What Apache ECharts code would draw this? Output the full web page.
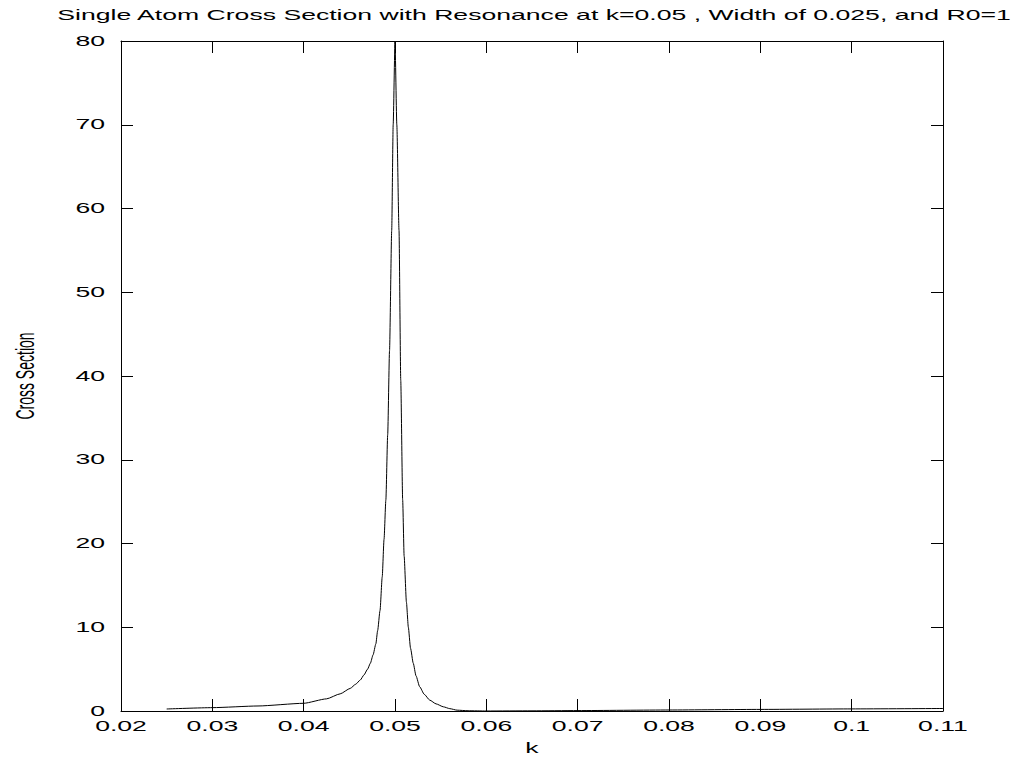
<!DOCTYPE html>
<html>
<head>
<meta charset="utf-8">
<script src="https://cdn.jsdelivr.net/npm/echarts@6/dist/echarts.min.js"></script>
<style>
html,body{margin:0;padding:0;background:#fff;}
#chart{width:1017px;height:759px;}
</style>
</head>
<body>
<div id="chart"></div>
<script>
// ---- data ----
const kValues = [
  0.025, 0.030, 0.035, 0.040, 0.0425, 0.044, 0.0451, 0.0457, 0.0462, 0.0466,
  0.0470, 0.0473, 0.0476, 0.0479, 0.0481, 0.04836, 0.0486, 0.0488, 0.0490, 0.0492,
  0.0494, 0.04964, 0.0498, 0.0500, 0.0502, 0.05044, 0.05063, 0.05084, 0.0510, 0.05125,
  0.05146, 0.0517, 0.0520, 0.0523, 0.0527, 0.0532, 0.0538, 0.0545, 0.0553, 0.0560,
  0.0568, 0.058, 0.060, 0.065, 0.070, 0.080, 0.090, 0.100, 0.110
];
const crossSection = [
  0.24, 0.40, 0.60, 0.92, 1.45, 2.05, 2.7, 3.2, 3.7, 4.3,
  5.0, 5.7, 6.7, 8.0, 9.6, 12, 16, 20.5, 25.2, 33,
  43, 57.4, 70, 80, 70, 57.4, 39.5, 25.2, 18.5, 13,
  10, 7.5, 5.7, 4.2, 2.9, 2.0, 1.3, 0.85, 0.5, 0.28,
  0.1, 0.03, 0.0, 0.02, 0.05, 0.12, 0.19, 0.25, 0.30
];
const xTickValues = [0.02, 0.03, 0.04, 0.05, 0.06, 0.07, 0.08, 0.09, 0.10, 0.11];
const xTickLabels = ['0.02', '0.03', '0.04', '0.05', '0.06', '0.07', '0.08', '0.09', '0.1', '0.11'];
const yTickValues = [0, 10, 20, 30, 40, 50, 60, 70, 80];
const yTickLabels = ['0', '10', '20', '30', '40', '50', '60', '70', '80'];
const titleText = 'Single Atom Cross Section with Resonance at k=0.05 , Width of 0.025, and R0=1';
const xName = 'k';
const yName = 'Cross Section';

const FONT = '"Liberation Sans", Arial, sans-serif';
const STRETCH = 1.9;

const chart = echarts.init(document.getElementById('chart'), null, {renderer: 'svg'});

const seriesData = kValues.map((k, i) => [k, crossSection[i]]);

const lineCol = '#000';
function boxAxis(extra) {
  return Object.assign({
    type: 'value',
    axisLine: {show: true, onZero: false, lineStyle: {color: lineCol, width: 1}},
    axisTick: {show: true, inside: true, length: 12, lineStyle: {color: lineCol, width: 1}},
    axisLabel: {show: false},
    splitLine: {show: false}
  }, extra);
}

chart.setOption({
  animation: false,
  backgroundColor: '#fff',
  grid: {left: 121, right: 74, top: 41, bottom: 48, containLabel: false},
  xAxis: [
    boxAxis({min: 0.02, max: 0.11, interval: 0.01, position: 'bottom'}),
    boxAxis({min: 0.02, max: 0.11, interval: 0.01, position: 'top'})
  ],
  yAxis: [
    boxAxis({min: 0, max: 80, interval: 10, position: 'left'}),
    boxAxis({min: 0, max: 80, interval: 10, position: 'right'})
  ],
  series: [{
    type: 'line',
    xAxisIndex: 0,
    yAxisIndex: 0,
    data: seriesData,
    showSymbol: false,
    smooth: 0.2,
    smoothMonotone: 'x',
    clip: true,
    lineStyle: {color: '#000', width: 1}
  }]
});

// text elements, horizontally stretched like the reference image
function stretchedText(text, x, y, align, vAlign, rotate) {
  const el = {
    type: 'text',
    x: x, y: y,
    silent: true,
    style: {
      text: text,
      fill: '#000',
      font: '14px ' + FONT,
      textAlign: align,
      textVerticalAlign: vAlign
    }
  };
  if (rotate) {
    el.rotation = Math.PI / 2;
    el.scaleY = STRETCH;
  } else {
    el.scaleX = STRETCH;
  }
  return el;
}

const graphics = [];
xTickValues.forEach((v, i) => {
  const px = chart.convertToPixel({xAxisIndex: 0}, v);
  const py = chart.convertToPixel({yAxisIndex: 0}, 0);
  graphics.push(stretchedText(xTickLabels[i], px, py + 15, 'center', 'middle'));
});
yTickValues.forEach((v, i) => {
  const px = chart.convertToPixel({xAxisIndex: 0}, 0.02);
  const py = chart.convertToPixel({yAxisIndex: 0}, v);
  graphics.push(stretchedText(yTickLabels[i], px - 16, py, 'right', 'middle'));
});
graphics.push(stretchedText(titleText, 534, 15, 'center', 'middle'));
graphics.push(stretchedText(xName, 532, 748, 'center', 'middle'));
graphics.push(stretchedText(yName, 25, 376, 'center', 'middle', true));

chart.setOption({graphic: {elements: graphics}});
</script>
</body>
</html>
